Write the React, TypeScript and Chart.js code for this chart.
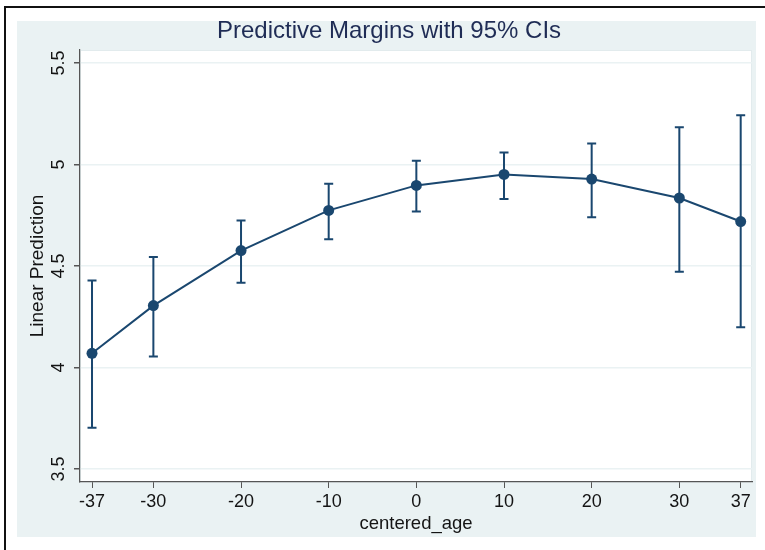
import React, { useEffect, useRef } from 'react';
import { Chart, registerables } from 'chart.js';

Chart.register(...registerables);

// ---- data ----
const ages = [-37, -30, -20, -10, 0, 10, 20, 30, 37];
const margins = [4.07, 4.305, 4.576, 4.774, 4.897, 4.951, 4.928, 4.835, 4.719];
const ciLower = [3.703, 4.054, 4.417, 4.632, 4.768, 4.83, 4.74, 4.472, 4.198];
const ciUpper = [4.428, 4.544, 4.724, 4.905, 5.018, 5.059, 5.104, 5.183, 5.243];
const xTicks = [-37, -30, -20, -10, 0, 10, 20, 30, 37];
const yTicks = [3.5, 4, 4.5, 5, 5.5];
const yTickLabels = ['3.5', '4', '4.5', '5', '5.5'];

const titleText = 'Predictive Margins with 95% CIs';
const xTitle = 'centered_age';
const yTitle = 'Linear Prediction';

const FONT = '"Liberation Sans", Arial, Helvetica, sans-serif';
const NAVY = '#1a476f';
const PANEL = '#eaf2f3';
const TEXT = '#141414';

const backgroundPlugin = {
  id: 'stataBackground',
  beforeDraw(chart: any) {
    const { ctx, chartArea } = chart;
    ctx.save();
    ctx.setTransform(1, 0, 0, 1, 0, 0);
    ctx.fillStyle = '#ffffff';
    ctx.fillRect(0, 0, chart.width, chart.height);
    // graph region
    ctx.fillStyle = PANEL;
    ctx.fillRect(17, 21, 739, 516);
    // outer frame (top and left edges)
    ctx.fillStyle = '#111111';
    ctx.fillRect(4, 6, 2, chart.height - 6);
    ctx.fillRect(4, 6, chart.width - 4, 2);
    // plot region
    ctx.fillStyle = '#ffffff';
    ctx.fillRect(chartArea.left, chartArea.top, chartArea.right - chartArea.left, chartArea.bottom - chartArea.top);
    ctx.strokeStyle = '#e2ebed';
    ctx.lineWidth = 1;
    ctx.strokeRect(chartArea.left + 0.5, chartArea.top + 0.5, chartArea.right - chartArea.left - 1, chartArea.bottom - chartArea.top - 1);
    ctx.restore();
  },
};

const errorBarPlugin = {
  id: 'ciCaps',
  beforeDatasetsDraw(chart: any) {
    const { ctx } = chart;
    const xs = chart.scales.x;
    const ys = chart.scales.y;
    ctx.save();
    ctx.strokeStyle = NAVY;
    ctx.lineWidth = 2;
    const cap = 4.5;
    ages.forEach((a, i) => {
      const x = xs.getPixelForValue(a);
      const yl = ys.getPixelForValue(ciLower[i]);
      const yu = ys.getPixelForValue(ciUpper[i]);
      ctx.beginPath();
      ctx.moveTo(x, yl);
      ctx.lineTo(x, yu);
      ctx.moveTo(x - cap, yl);
      ctx.lineTo(x + cap, yl);
      ctx.moveTo(x - cap, yu);
      ctx.lineTo(x + cap, yu);
      ctx.stroke();
    });
    ctx.restore();
  },
};

const yLabelPlugin = {
  id: 'rotatedYLabels',
  afterDraw(chart: any) {
    const { ctx } = chart;
    const ys = chart.scales.y;
    ctx.save();
    ctx.fillStyle = TEXT;
    ctx.font = `18px ${FONT}`;
    ctx.textAlign = 'center';
    ctx.textBaseline = 'middle';
    yTicks.forEach((v, i) => {
      const y = ys.getPixelForValue(v);
      ctx.save();
      ctx.translate(59, y);
      ctx.rotate(-Math.PI / 2);
      ctx.fillText(yTickLabels[i], 0, 0);
      ctx.restore();
    });
    ctx.restore();
  },
};

export default function App() {
  const canvasRef = useRef<HTMLCanvasElement | null>(null);

  useEffect(() => {
    if (!canvasRef.current) return;
    const chart = new Chart(canvasRef.current, {
      type: 'line',
      data: {
        datasets: [
          {
            label: 'Linear Prediction',
            data: ages.map((a, i) => ({ x: a, y: margins[i] })),
            borderColor: NAVY,
            backgroundColor: NAVY,
            borderWidth: 2,
            pointRadius: 5.5,
            pointBackgroundColor: NAVY,
            pointBorderWidth: 0,
            tension: 0,
            fill: false,
          },
        ],
      },
      options: {
        animation: false,
        responsive: false,
        devicePixelRatio: 1,
        layout: { padding: { left: 26, right: 13, top: 0, bottom: 13 } },
        plugins: {
          legend: { display: false },
          tooltip: { enabled: false },
          title: {
            display: true,
            text: titleText,
            color: '#1f2c55',
            font: { family: FONT, size: 24, weight: 'normal' },
            padding: { top: 16.6, bottom: 4.6 },
          },
        },
        scales: {
          x: {
            type: 'linear',
            min: -38.37,
            max: 38.29,
            afterBuildTicks: (s: any) => {
              s.ticks = xTicks.map((v) => ({ value: v }));
            },
            afterFit: (s: any) => {
              s.height = 55;
            },
            grid: {
              drawOnChartArea: false,
              drawTicks: true,
              tickLength: 6,
              tickColor: '#555555',
            },
            border: { display: true, color: '#555555', width: 1.2 },
            ticks: {
              color: TEXT,
              font: { family: FONT, size: 18 },
              padding: 3,
              maxRotation: 0,
              autoSkip: false,
            },
            title: {
              display: true,
              text: xTitle,
              color: TEXT,
              font: { family: FONT, size: 18.5 },
              padding: { top: 0, bottom: 2 },
            },
          },
          y: {
            type: 'linear',
            min: 3.436,
            max: 5.564,
            afterBuildTicks: (s: any) => {
              s.ticks = yTicks.map((v) => ({ value: v }));
            },
            afterFit: (s: any) => {
              s.width = 54;
            },
            grid: {
              drawOnChartArea: true,
              color: PANEL,
              lineWidth: 1.5,
              drawTicks: true,
              tickLength: 6,
              tickColor: '#555555',
            },
            border: { display: true, color: '#555555', width: 1.2 },
            ticks: { display: false },
            title: {
              display: true,
              text: yTitle,
              color: TEXT,
              font: { family: FONT, size: 19 },
              padding: { top: 0, bottom: 0 },
            },
          },
        },
      },
      plugins: [backgroundPlugin, errorBarPlugin, yLabelPlugin],
    } as any);
    return () => chart.destroy();
  }, []);

  return (
    <div style={{ position: 'fixed', left: 0, top: 0, width: 765, height: 550 }}>
      <canvas ref={canvasRef} width={765} height={550} style={{ display: 'block' }} />
    </div>
  );
}
